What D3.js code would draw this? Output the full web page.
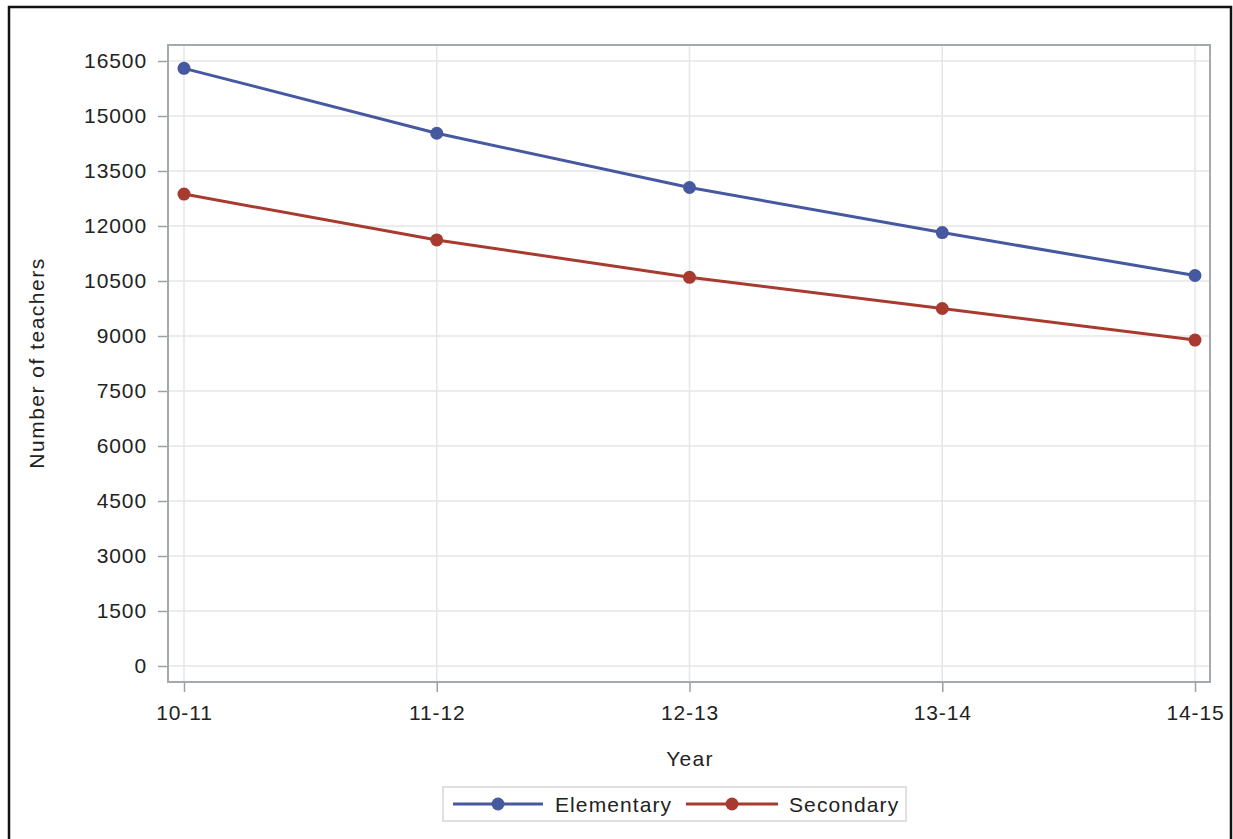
<!DOCTYPE html>
<html>
<head>
<meta charset="utf-8">
<script src="https://cdn.jsdelivr.net/npm/d3@7"></script>
<style>
  html, body { margin: 0; padding: 0; background: #fff; }
  svg { display: block; }
  text { font-family: "Liberation Sans", Arial, sans-serif; fill: #222; }
</style>
</head>
<body>
<svg id="chart" width="1233" height="839"></svg>
<script>
const years = ["10-11", "11-12", "12-13", "13-14", "14-15"];
const elementary = [16300, 14530, 13050, 11820, 10650];
const secondary = [12870, 11620, 10600, 9750, 8890];
const yTicks = [0, 1500, 3000, 4500, 6000, 7500, 9000, 10500, 12000, 13500, 15000, 16500];
const seriesNames = ["Elementary", "Secondary"];
const seriesColors = ["#4658A0", "#A83B2F"];

const svg = d3.select("#chart");
const frame = { left: 168, right: 1210, top: 45, bottom: 682 };

const x = d3.scalePoint().domain(years).range([184, 1195]);
const y = d3.scaleLinear().domain([0, 16500]).range([666, 61]);

// outer border
svg.append("rect").attr("x", 9).attr("y", 7).attr("width", 1222).attr("height", 850)
  .attr("fill", "none").attr("stroke", "#111").attr("stroke-width", 2.5);

// gridlines
svg.append("g").selectAll("line").data(yTicks).join("line")
  .attr("x1", frame.left).attr("x2", frame.right)
  .attr("y1", d => y(d)).attr("y2", d => y(d))
  .attr("stroke", "#e6e6e6").attr("stroke-width", 1.5);
svg.append("g").selectAll("line").data(years).join("line")
  .attr("x1", d => x(d)).attr("x2", d => x(d))
  .attr("y1", frame.top).attr("y2", frame.bottom)
  .attr("stroke", "#e6e6e6").attr("stroke-width", 1.5);

// axes
const yAxis = d3.axisLeft(y).tickValues(yTicks).tickSize(10).tickPadding(11).tickFormat(d3.format("d"));
const gy = svg.append("g").attr("transform", `translate(${frame.left},0)`).call(yAxis);
gy.select(".domain").remove();
gy.selectAll("line").attr("stroke", "#9aa0a6").attr("stroke-width", 1.5);
gy.selectAll("text").attr("font-size", 21).attr("letter-spacing", 0.9)
  .attr("font-family", "Liberation Sans, Arial, sans-serif").attr("fill", "#222");

const xAxis = d3.axisBottom(x).tickSize(10).tickPadding(13);
const gx = svg.append("g").attr("transform", `translate(0,${frame.bottom})`).call(xAxis);
gx.select(".domain").remove();
gx.selectAll("line").attr("stroke", "#9aa0a6").attr("stroke-width", 1.5);
gx.selectAll("text").attr("font-size", 21).attr("letter-spacing", 0.9)
  .attr("font-family", "Liberation Sans, Arial, sans-serif").attr("fill", "#222");

// frame
svg.append("rect").attr("x", frame.left).attr("y", frame.top)
  .attr("width", frame.right - frame.left).attr("height", frame.bottom - frame.top)
  .attr("fill", "none").attr("stroke", "#a4a9ae").attr("stroke-width", 2);

// series
const series = [elementary, secondary];
const line = d3.line().x((d, i) => x(years[i])).y(d => y(d));
series.forEach((vals, si) => {
  svg.append("path").datum(vals).attr("d", line)
    .attr("fill", "none").attr("stroke", seriesColors[si]).attr("stroke-width", 3);
  svg.append("g").selectAll("circle").data(vals).join("circle")
    .attr("cx", (d, i) => x(years[i])).attr("cy", d => y(d)).attr("r", 6.5)
    .attr("fill", seriesColors[si]);
});

// axis labels
svg.append("text").attr("x", 690).attr("y", 766).attr("text-anchor", "middle")
  .attr("font-size", 21).attr("letter-spacing", 1.3).text("Year");
svg.append("text").attr("transform", "translate(44,363) rotate(-90)").attr("text-anchor", "middle")
  .attr("font-size", 21).attr("letter-spacing", 1.5).text("Number of teachers");

// legend
svg.append("rect").attr("x", 443).attr("y", 787).attr("width", 463).attr("height", 34)
  .attr("fill", "#fff").attr("stroke", "#d6d6d6").attr("stroke-width", 1.5);
const legendItems = [
  { x1: 453, x2: 543, tx: 555 },
  { x1: 686, x2: 778, tx: 789 }
];
legendItems.forEach((it, i) => {
  svg.append("line").attr("x1", it.x1).attr("x2", it.x2).attr("y1", 804).attr("y2", 804)
    .attr("stroke", seriesColors[i]).attr("stroke-width", 3);
  svg.append("circle").attr("cx", (it.x1 + it.x2) / 2).attr("cy", 804).attr("r", 6.5)
    .attr("fill", seriesColors[i]);
  svg.append("text").attr("x", it.tx).attr("y", 812).attr("font-size", 21)
    .attr("letter-spacing", 1.1).text(seriesNames[i]);
});
</script>
</body>
</html>
